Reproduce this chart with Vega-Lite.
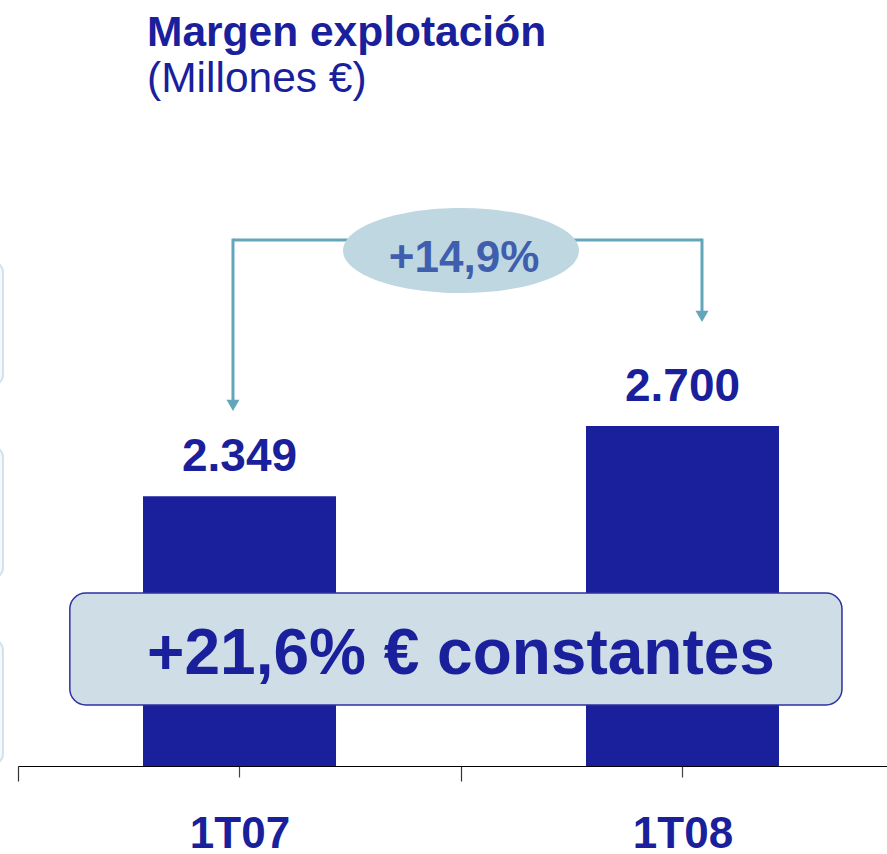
{
  "$schema": "https://vega.github.io/schema/vega-lite/v6.json",
  "width": 869,
  "height": 640,
  "autosize": {"type": "none"},
  "padding": {"left": 18, "top": 126, "right": 0, "bottom": 88},
  "background": "white",
  "title": {
    "text": "Margen explotación",
    "subtitle": "(Millones €)",
    "anchor": "start",
    "frame": "group",
    "dx": 129,
    "offset": 26,
    "font": "Liberation Sans",
    "fontSize": 42.5,
    "fontWeight": "bold",
    "color": "#1a1f9c",
    "subtitleFont": "Liberation Sans",
    "subtitleFontSize": 42.5,
    "subtitleFontWeight": "normal",
    "subtitleColor": "#1a1f9c",
    "subtitlePadding": 3
  },
  "data": {"values": [{"periodo": "1T07", "valor": 2349}, {"periodo": "1T08", "valor": 2700}]},
  "layer": [
    {
      "mark": {"type": "bar", "color": "#1a1f9c", "clip": true},
      "encoding": {
        "x": {
          "field": "periodo", "type": "nominal", "sort": null,
          "scale": {"range": [0, 886], "paddingInner": 0.5643, "paddingOuter": 0.2822},
          "axis": {"orient": "bottom", "labels": false, "domain": false, "ticks": true, "tickSize": 11, "tickColor": "#444444", "tickWidth": 1.2, "title": null, "grid": false}
        },
        "y": {"field": "valor", "type": "quantitative", "scale": {"domain": [1000, 4200], "zero": false, "nice": false}, "axis": null}
      }
    },
    {
      "mark": {"type": "text", "baseline": "alphabetic", "dy": -25, "font": "Liberation Sans", "fontSize": 46, "fontWeight": "bold", "color": "#1a1f9c"},
      "encoding": {
        "x": {
          "field": "periodo", "type": "nominal", "sort": null,
          "scale": {"range": [0, 886], "paddingInner": 0, "paddingOuter": 0},
          "axis": {
            "orient": "bottom", "tickBand": "extent", "tickSize": 15, "tickColor": "#333333", "tickWidth": 1.2,
            "domainColor": "#000000", "domainWidth": 1.2, "labelFont": "Liberation Sans", "labelFontSize": 44,
            "labelFontWeight": "bold", "labelColor": "#1a1f9c", "labelPadding": 31, "labelAngle": 0,
            "title": null, "grid": false
          }
        },
        "y": {"field": "valor", "type": "quantitative", "axis": null},
        "text": {"field": "valor", "type": "quantitative", "format": ",d"}
      }
    },
    {
      "data": {"values": [{}]},
      "layer": [
        {
          "mark": {"type": "rect", "cornerRadius": 10, "fill": "#f6f9fb", "stroke": "#d3e2ea", "strokeWidth": 2},
          "encoding": {
            "x": {"datum": 0.40, "type": "quantitative", "scale": {"domain": [0.5, 2.5], "range": [0, 886]}, "axis": null},
            "x2": {"datum": 0.466},
            "y": {"datum": 3520, "type": "quantitative", "axis": null},
            "y2": {"datum": 2905}
          }
        },
        {
          "mark": {"type": "rect", "cornerRadius": 10, "fill": "#f6f9fb", "stroke": "#d3e2ea", "strokeWidth": 2},
          "encoding": {
            "x": {"datum": 0.40, "type": "quantitative", "scale": {"domain": [0.5, 2.5], "range": [0, 886]}, "axis": null},
            "x2": {"datum": 0.466},
            "y": {"datum": 2595, "type": "quantitative", "axis": null},
            "y2": {"datum": 1940}
          }
        },
        {
          "mark": {"type": "rect", "cornerRadius": 10, "fill": "#f6f9fb", "stroke": "#d3e2ea", "strokeWidth": 2},
          "encoding": {
            "x": {"datum": 0.40, "type": "quantitative", "scale": {"domain": [0.5, 2.5], "range": [0, 886]}, "axis": null},
            "x2": {"datum": 0.466},
            "y": {"datum": 1630, "type": "quantitative", "axis": null},
            "y2": {"datum": 1010}
          }
        },
        {
          "mark": {"type": "rule", "color": "#63a6bc", "strokeWidth": 3},
          "encoding": {
            "x": {"datum": 0.9853, "type": "quantitative", "scale": {"domain": [0.5, 2.5], "range": [0, 886]}, "axis": null},
            "x2": {"datum": 2.044},
            "y": {"datum": 3630, "type": "quantitative", "axis": null}
          }
        },
        {
          "mark": {"type": "rule", "color": "#63a6bc", "strokeWidth": 3},
          "encoding": {
            "x": {"datum": 0.9853, "type": "quantitative", "scale": {"domain": [0.5, 2.5], "range": [0, 886]}, "axis": null},
            "y": {"datum": 3637, "type": "quantitative", "axis": null},
            "y2": {"datum": 2810}
          }
        },
        {
          "mark": {"type": "rule", "color": "#63a6bc", "strokeWidth": 3},
          "encoding": {
            "x": {"datum": 2.044, "type": "quantitative", "scale": {"domain": [0.5, 2.5], "range": [0, 886]}, "axis": null},
            "y": {"datum": 3637, "type": "quantitative", "axis": null},
            "y2": {"datum": 3255}
          }
        },
        {
          "mark": {"type": "point", "shape": "triangle-down", "filled": true, "size": 169, "color": "#63a6bc", "opacity": 1},
          "encoding": {
            "x": {"datum": 0.9853, "type": "quantitative", "scale": {"domain": [0.5, 2.5], "range": [0, 886]}, "axis": null},
            "y": {"datum": 2803, "type": "quantitative", "axis": null}
          }
        },
        {
          "mark": {"type": "point", "shape": "triangle-down", "filled": true, "size": 169, "color": "#63a6bc", "opacity": 1},
          "encoding": {
            "x": {"datum": 2.044, "type": "quantitative", "scale": {"domain": [0.5, 2.5], "range": [0, 886]}, "axis": null},
            "y": {"datum": 3248, "type": "quantitative", "axis": null}
          }
        },
        {
          "mark": {"type": "point", "shape": "M-1,0A1,0.36,0,1,0,1,0A1,0.36,0,1,0,-1,0Z", "filled": true, "size": 55696, "color": "#bfd7e1", "opacity": 1},
          "encoding": {
            "x": {"datum": 1.5, "type": "quantitative", "scale": {"domain": [0.5, 2.5], "range": [0, 886]}, "axis": null},
            "y": {"datum": 3577, "type": "quantitative", "axis": null}
          }
        },
        {
          "mark": {"type": "text", "text": "+14,9%", "font": "Liberation Sans", "fontSize": 44, "fontWeight": "bold", "color": "#3f5fae", "baseline": "alphabetic"},
          "encoding": {
            "x": {"datum": 1.507, "type": "quantitative", "scale": {"domain": [0.5, 2.5], "range": [0, 886]}, "axis": null},
            "y": {"datum": 3470, "type": "quantitative", "axis": null}
          }
        },
        {
          "mark": {"type": "rect", "cornerRadius": 16, "fill": "#cfdee6", "stroke": "#2c31a0", "strokeWidth": 1.5},
          "encoding": {
            "x": {"datum": 0.617, "type": "quantitative", "scale": {"domain": [0.5, 2.5], "range": [0, 886]}, "axis": null},
            "x2": {"datum": 2.36},
            "y": {"datum": 1865, "type": "quantitative", "axis": null},
            "y2": {"datum": 1305}
          }
        },
        {
          "mark": {"type": "text", "text": "+21,6% € constantes", "font": "Liberation Sans", "fontSize": 64, "fontWeight": "bold", "color": "#1a1f9c", "baseline": "alphabetic"},
          "encoding": {
            "x": {"datum": 1.5, "type": "quantitative", "scale": {"domain": [0.5, 2.5], "range": [0, 886]}, "axis": null},
            "y": {"datum": 1460, "type": "quantitative", "axis": null}
          }
        }
      ]
    }
  ],
  "resolve": {"scale": {"x": "independent"}, "axis": {"x": "independent"}},
  "config": {
    "view": {"stroke": null},
    "locale": {"number": {"decimal": ",", "thousands": ".", "grouping": [3], "currency": ["", " €"]}}
  }
}
